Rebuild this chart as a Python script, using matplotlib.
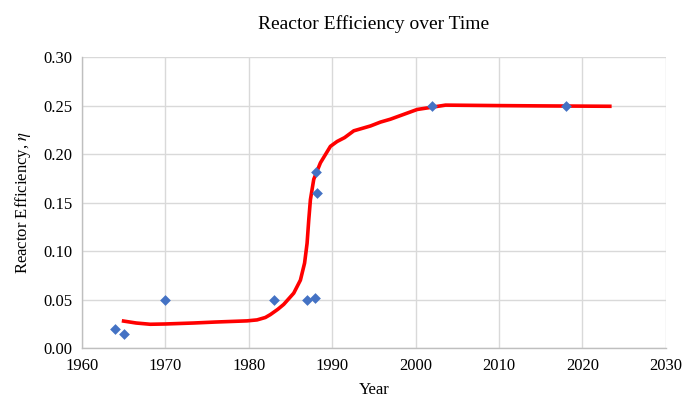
import matplotlib
matplotlib.use("Agg")
import matplotlib.pyplot as plt
import numpy as np

# Mesures ponctuelles (losanges bleus)
pts_year = [1964, 1965, 1970, 1983, 1987, 1988, 1988.05, 1988.15, 2002, 2018]
pts_eff = [0.020, 0.014, 0.050, 0.050, 0.050, 0.052, 0.182, 0.160, 0.250, 0.250]

# Courbe de tendance (rouge)
fit_year = [1965, 1966.5, 1968.2, 1970, 1973.4, 1976, 1979.8, 1981, 1982, 1982.6,
            1983.5, 1984.2, 1985.4, 1986.2, 1986.7, 1987.0, 1987.2, 1987.4,
            1987.8, 1988.6, 1989.8, 1990.6, 1991.5, 1992.6, 1994.6, 1995.8,
            1997, 2000.2, 2003.6, 2010, 2015, 2023.3]
fit_eff = [0.0278, 0.0258, 0.0245, 0.0248, 0.0258, 0.0268, 0.0280, 0.0290, 0.0315, 0.0345,
           0.0400, 0.0450, 0.0566, 0.0700, 0.0876, 0.1080, 0.1320, 0.1530,
           0.1740, 0.1910, 0.2080, 0.2130, 0.2170, 0.2240, 0.2290, 0.2330,
           0.2360, 0.2460, 0.2505, 0.2500, 0.2497, 0.2493]

plt.rcParams['font.family'] = ['Liberation Serif', 'DejaVu Serif']
plt.rcParams['mathtext.fontset'] = 'stix'

fig = plt.figure(figsize=(7.0, 4.08), dpi=100)
ax = fig.add_axes([0.117, 0.147, 0.834, 0.713])

ax.plot(fit_year, fit_eff, color='#FF0000', lw=2.6, zorder=3)
ax.scatter(pts_year, pts_eff, marker='D', s=30, color='#4472C4', zorder=4, linewidths=0)

ax.set_xlim(1960, 2030)
ax.set_ylim(0, 0.30)
ax.set_xticks(np.arange(1960, 2031, 10))
ax.set_yticks(np.arange(0, 0.301, 0.05))
ax.set_yticklabels([f"{v:.2f}" for v in np.arange(0, 0.301, 0.05)])
ax.tick_params(axis='both', length=0, labelsize=12, pad=7, colors='black')

ax.grid(True, color='#D9D9D9', lw=1.0)
ax.set_axisbelow(True)
for side in ['top', 'right']:
    ax.spines[side].set_visible(False)
for side in ['left', 'bottom']:
    ax.spines[side].set_color('#BFBFBF')
    ax.spines[side].set_linewidth(1.0)

ax.set_title("Reactor Efficiency over Time", fontsize=14, pad=20)
ax.set_xlabel("Year", fontsize=12, labelpad=6)
ax.set_ylabel(r"Reactor Efficiency, $\eta$", fontsize=12, labelpad=7)

plt.savefig("out.png", dpi=100)
